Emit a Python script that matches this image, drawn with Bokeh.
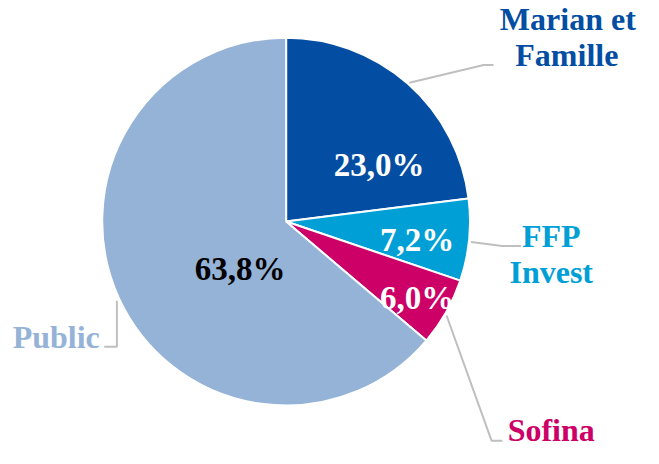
from bokeh.plotting import figure
from bokeh.models import Range1d, ColumnDataSource
from bokeh.core.properties import value
from bokeh.embed import file_html
from bokeh.resources import INLINE
import math

# ---- data ----
categories = ["Marian et Famille", "FFP Invest", "Sofina", "Public"]
shares = [23.0, 7.2, 6.0, 63.8]
pct_labels = ["23,0%", "7,2%", "6,0%", "63,8%"]
name_lines = [["Marian et", "Famille"], ["FFP", "Invest"], ["Sofina"], ["Public"]]
colors = ["#034EA2", "#00A0D6", "#CC0066", "#95B3D7"]

# ---- layout (reference-pixel based coordinates, y flipped) ----
def Y(py):
    return 464 - py

cx, cy, r = 296, Y(232), 188
FONT = value("Liberation Serif")

W, H = 643, 448
ylen = 458.0
xlen = W * ylen / H
p = figure(width=W, height=H, output_backend="svg", toolbar_location=None,
           x_range=Range1d(4, 4 + xlen), y_range=Range1d(0, ylen),
           min_border=0)
p.axis.visible = False
p.grid.visible = False
p.outline_line_color = None
p.background_fill_color = "white"

total = sum(shares)
starts, ends = [], []
acc = 0.0
for s in shares:
    a0 = math.pi / 2 - acc / total * 2 * math.pi
    acc += s
    a1 = math.pi / 2 - acc / total * 2 * math.pi
    starts.append(a0)
    ends.append(a1)

src = ColumnDataSource(dict(start=starts, end=ends, color=colors, cat=categories))
p.wedge(x=cx, y=cy, radius=r, start_angle="start", end_angle="end",
        direction="clock", fill_color="color", line_color="white",
        line_width=2, source=src)

# percentage labels
pct_pos = [(391, 174), (430, 251), (430, 310), (249, 281)]
pct_colors = ["white", "white", "white", "black"]
p.text(x=[q[0] for q in pct_pos], y=[Y(q[1]) for q in pct_pos], text=pct_labels,
       text_color=pct_colors, text_font=FONT, text_font_style="bold",
       text_font_size="33px", text_align="center", text_baseline="middle")

# category labels
name_pos = [[(584, 25), (583, 62)], [(567, 247), (567, 284)], [(567, 445)], [(61, 350)]]
xs, ys, ts, cs = [], [], [], []
for lines, pos, c in zip(name_lines, name_pos, colors):
    for t, (px, py) in zip(lines, pos):
        xs.append(px); ys.append(Y(py)); ts.append(t); cs.append(c)
p.text(x=xs, y=ys, text=ts, text_color=cs, text_font=FONT, text_font_style="bold",
       text_font_size="32px", text_align="center", text_baseline="middle")

# leader lines
leaders = [
    [(422, 90), (498, 72), (508, 72)],
    [(485, 253), (517, 257), (536, 257)],
    [(460, 328), (506, 456), (517, 456)],
    [(123, 313), (123, 360), (110, 360)],
]
p.multi_line(xs=[[q[0] for q in L] for L in leaders],
             ys=[[Y(q[1]) for q in L] for L in leaders],
             line_color="#BFBFBF", line_width=2)

open("out.html", "w").write(file_html(p, INLINE))
